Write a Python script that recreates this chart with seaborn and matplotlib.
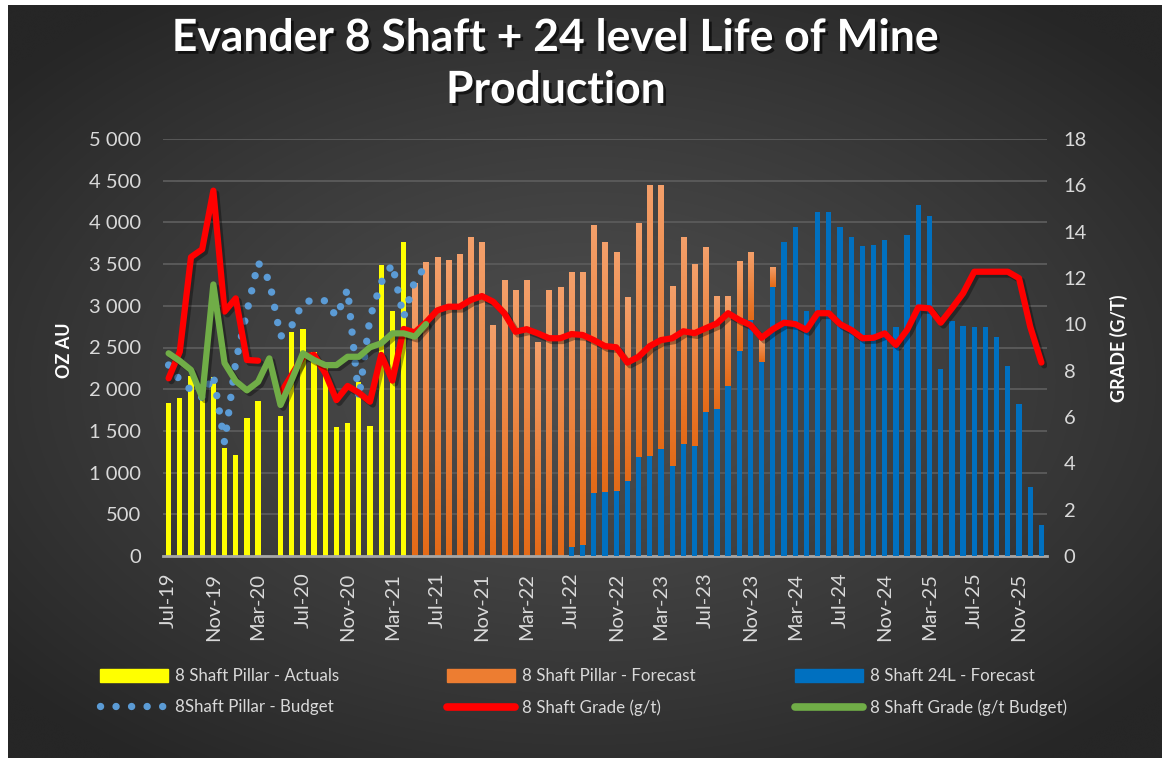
import numpy as np
import pandas as pd
import matplotlib
matplotlib.use('Agg')
import matplotlib.pyplot as plt
import matplotlib.patheffects as pe
from matplotlib.colors import LinearSegmentedColormap, to_rgb
from matplotlib.patches import Patch
from matplotlib.lines import Line2D
import seaborn as sns

# monthly axis Jul-19 .. Jan-26
months = pd.date_range('2019-07-01', periods=79, freq='MS').strftime('%b-%y').tolist()

# oz Au, 8 Shaft Pillar actuals (Jul-19 .. Apr-21), Apr-20 = lockdown
actuals = [1840, 1900, 2160, 1980, 2150, 1290, 1210, 1660, 1860, 0, 1680,
           2690, 2720, 2450, 2260, 1550, 1600, 2090, 1560, 3490, 2940, 3770]

# 8 Shaft Pillar forecast (May-21 .. May-24)
pillar_forecast = [3270, 3530, 3590, 3550, 3620, 3830, 3770, 2770, 3310, 3190,
                   3310, 2570, 3190, 3220, 3290, 3270, 3210, 2990, 2860, 2210,
                   2800, 3250, 3170, 2160, 2480, 2180, 1970, 1360, 1080, 1080,
                   820, 270, 250]

# 8 Shaft 24L forecast (Jul-22 .. Jan-26)
shaft24_forecast = [110, 130, 760, 770, 780, 900, 1190, 1200, 1280, 1080, 1340,
                    1320, 1730, 1760, 2040, 2460, 2830, 2330, 3220, 3760, 3940,
                    2940, 4120, 4120, 3940, 3830, 3720, 3730, 3790, 2750, 3850,
                    4210, 4080, 2240, 2820, 2760, 2750, 2750, 2620, 2280, 1820,
                    830, 370]

# 8Shaft Pillar budget (Jul-19 .. Jun-21)
budget = [2290, 2110, 1990, 1900, 2170, 1360, 2330, 2930, 3520, 3300, 2630,
          2760, 3040, 3070, 3060, 2870, 3200, 1890, 2860, 3280, 3500, 2860,
          3300, 3480]

# grade g/t (Apr-20 missing)
grade = [7.67, 8.82, 12.9, 13.24, 15.77, 10.55, 11.12, 8.46, 8.43, np.nan,
         7.02, 7.81, 8.60, 8.68, 7.89, 6.73, 7.34, 7.05, 6.66, 8.68, 7.57,
         9.80, 9.65, 10.08, 10.60, 10.76, 10.76, 11.05, 11.22, 10.98, 10.48,
         9.68, 9.79, 9.61, 9.40, 9.40, 9.58, 9.54, 9.32, 9.06, 9.01, 8.35,
         8.60, 9.06, 9.32, 9.40, 9.70, 9.62, 9.83, 10.04, 10.48, 10.19, 9.97,
         9.42, 9.79, 10.07, 10.01, 9.76, 10.48, 10.48, 10.01, 9.76, 9.40,
         9.42, 9.61, 9.11, 9.76, 10.73, 10.69, 10.07, 10.69, 11.34, 12.27,
         12.27, 12.27, 12.27, 11.99, 9.90, 8.35]

# grade budget g/t (Jul-19 .. Jun-21)
grade_budget = [8.75, 8.42, 8.03, 6.85, 11.72, 8.33, 7.55, 7.15, 7.52, 8.53,
                6.52, 7.60, 8.75, 8.46, 8.24, 8.24, 8.60, 8.60, 9.01, 9.18,
                9.61, 9.61, 9.47, 10.01]

n = len(months)
df = pd.DataFrame({'month': months})
df['actual'] = actuals + [0] * (n - len(actuals))
df['pillar'] = [0] * 22 + pillar_forecast + [0] * (n - 22 - len(pillar_forecast))
df['s24'] = [0] * 36 + shaft24_forecast
df['total'] = df['pillar'] + df['s24']

YELLOW = '#ffff00'
ORANGE = '#ed7d31'
BLUE = '#0070c0'
DOT = '#5b9bd5'
RED = '#ff0000'
GREEN = '#70ad47'
TXT = '#d9d9d9'

sns.set_style('white')
plt.rcParams['font.family'] = ['Lato', 'DejaVu Sans']

W, H = 1163, 758
fig = plt.figure(figsize=(W / 100, H / 100), dpi=100, facecolor='white')

# dark radial background
bg = fig.add_axes([8 / W, 0, (1162 - 8) / W, (758 - 5) / H], zorder=-5)
yy, xx = np.mgrid[-1:1:300j, -1:1:450j]
r = np.clip(np.sqrt((xx * 0.95) ** 2 + (yy * 1.0) ** 2) / 1.25, 0, 1)
c0 = np.array(to_rgb('#4d4d4d'))
c1 = np.array(to_rgb('#262626'))
img = c0 + (c1 - c0) * (r[..., None] ** 1.3)
bg.imshow(img, aspect='auto', extent=(0, 1, 0, 1), interpolation='bicubic')
bg.axis('off')

ax = fig.add_axes([163 / W, 1 - 556 / H, (1047 - 163) / W, (556 - 139) / H])
ax.patch.set_alpha(0)

bw = 0.47
sns.barplot(data=df, x='month', y='actual', color=YELLOW, saturation=1,
            width=bw, errorbar=None, linewidth=0, ax=ax, zorder=2)
sns.barplot(data=df, x='month', y='total', color=ORANGE, saturation=1,
            width=bw, errorbar=None, linewidth=0, ax=ax, zorder=2)
orange_bars = ax.containers[-1]

# gradient fill on the pillar forecast bars
grad = np.linspace(0, 1, 128).reshape(-1, 1)
ocmap = LinearSegmentedColormap.from_list('org', ['#e46a17', '#f4a06b'])
for p, b in zip(orange_bars.patches, df['s24']):
    h = p.get_height()
    if h <= 0 or h - b <= 0:
        continue
    im = ax.imshow(grad, cmap=ocmap, origin='lower', aspect='auto',
                   extent=(p.get_x(), p.get_x() + p.get_width(), b, h),
                   zorder=2.5, interpolation='bilinear')
    im.set_clip_path(p)

sns.barplot(data=df, x='month', y='s24', color=BLUE, saturation=1,
            width=bw, errorbar=None, linewidth=0, ax=ax, zorder=3)

dot_style = (0, (0.01, 2.1))
sns.lineplot(x=np.arange(len(budget)), y=budget, ax=ax, color=DOT, lw=5.3,
             linestyle=dot_style, dash_capstyle='round', zorder=4,
             legend=False)

ax.set_xlim(-0.5, n - 0.5)
ax.set_ylim(0, 5000)
ax.set_yticks(np.arange(0, 5001, 500))
ax.set_yticklabels([f'{v:,}'.replace(',', ' ') for v in range(0, 5001, 500)])
ax.set_xticks(np.arange(0, n, 4))
ax.set_xticklabels([months[i] for i in range(0, n, 4)], rotation=90)
ax.set_xlabel('')
ax.set_ylabel('')
ax.yaxis.grid(True, color='#595959', lw=1.4)
ax.xaxis.grid(False)
ax.set_axisbelow(True)
ax.tick_params(axis='both', length=0, colors=TXT, labelsize=14.5)
ax.tick_params(axis='y', pad=16)
ax.tick_params(axis='x', pad=12)
for s in ['top', 'left', 'right']:
    ax.spines[s].set_visible(False)
ax.spines['bottom'].set_color('#a6a6a6')
ax.spines['bottom'].set_linewidth(2)

ax2 = ax.twinx()
ax2.patch.set_alpha(0)
shadow = [pe.SimpleLineShadow(offset=(2, -2), alpha=0.35, shadow_color='black'),
          pe.Normal()]
gx = np.arange(n)
line_kw = dict(lw=4.5, solid_joinstyle='round', solid_capstyle='round',
               path_effects=shadow, legend=False, ax=ax2)
sns.lineplot(x=gx[:9], y=grade[:9], color=RED, **line_kw)
sns.lineplot(x=gx[10:], y=grade[10:], color=RED, **line_kw)
sns.lineplot(x=np.arange(len(grade_budget)), y=grade_budget, color=GREEN,
             **line_kw)
ax2.set_ylim(0, 18)
ax2.set_yticks(np.arange(0, 19, 2))
ax2.set_ylabel('')
ax2.grid(False)
ax2.tick_params(axis='y', length=0, colors=TXT, labelsize=14.5, pad=12)
for s in ax2.spines.values():
    s.set_visible(False)
ax.set_xlim(-0.5, n - 0.5)

# titles and axis names
tshadow = [pe.withSimplePatchShadow(offset=(2, -2), shadow_rgbFace='black', alpha=0.6)]
fig.text(556 / W, 1 - 38 / H, 'Evander 8 Shaft + 24 level Life of Mine',
         ha='center', va='center', fontsize=32, fontweight='bold',
         color='white', path_effects=tshadow)
fig.text(556 / W, 1 - 90 / H, 'Production', ha='center', va='center',
         fontsize=32, fontweight='bold', color='white', path_effects=tshadow)
fig.text(65 / W, 1 - 350 / H, 'OZ AU', rotation=90, ha='center', va='center',
         fontsize=13, fontweight='bold', color='white')
fig.text(1119 / W, 1 - 348 / H, 'GRADE (G/T)', rotation=90, ha='center',
         va='center', fontsize=13, fontweight='bold', color='white')

# legend, three columns
leg_kw = dict(loc='upper left', frameon=False, fontsize=12.2, labelcolor=TXT,
              handlelength=4.0, handleheight=0.8, handletextpad=0.45,
              labelspacing=0.9, borderpad=0, borderaxespad=0)
cols = [
    (100, [Patch(color=YELLOW),
           Line2D([], [], color=DOT, lw=5.3, linestyle=dot_style,
                  dash_capstyle='round')],
     ['8 Shaft Pillar - Actuals', '8Shaft Pillar - Budget']),
    (447, [Patch(color=ORANGE),
           Line2D([], [], color=RED, lw=5.5, solid_capstyle='round')],
     ['8 Shaft Pillar - Forecast', '8 Shaft Grade (g/t)']),
    (795, [Patch(color=BLUE),
           Line2D([], [], color=GREEN, lw=5.5, solid_capstyle='round')],
     ['8 Shaft 24L - Forecast', '8 Shaft Grade (g/t Budget)']),
]
for x0, hs, ls in cols:
    fig.legend(hs, ls, bbox_to_anchor=(x0 / W, 1 - 668 / H), **leg_kw)

fig.savefig('out.png', dpi=100, facecolor='white')
